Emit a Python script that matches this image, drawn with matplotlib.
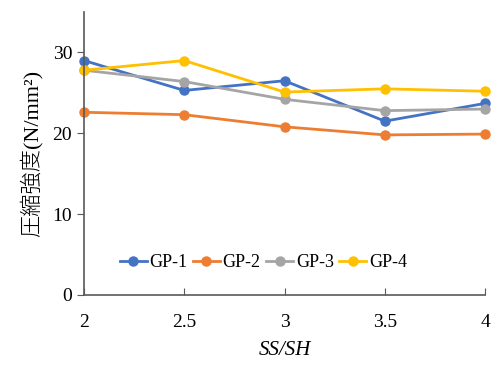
import matplotlib
matplotlib.use("Agg")
import matplotlib.pyplot as plt

# data
ratio = [2, 2.5, 3, 3.5, 4]
gp1 = [29.0, 25.3, 26.5, 21.5, 23.7]
gp2 = [22.6, 22.3, 20.8, 19.8, 19.9]
gp3 = [27.8, 26.4, 24.2, 22.8, 23.0]
gp4 = [27.8, 29.0, 25.1, 25.5, 25.2]
labels = ["GP-1", "GP-2", "GP-3", "GP-4"]
colors = ["#4472C4", "#ED7D31", "#A5A5A5", "#FFC000"]

plt.rcParams['font.family'] = ['Liberation Serif', 'Noto Sans CJK JP']

fig = plt.figure(figsize=(4.91, 3.65), dpi=100)
ax = fig.add_axes([0.171, 0.192, 0.817, 0.775])

for ys, lab, c in zip([gp1, gp2, gp3, gp4], labels, colors):
    ax.plot(ratio, ys, color=c, lw=2, marker='o', markersize=6.5, label=lab, clip_on=False)

ax.set_xlim(2, 4)
ax.set_ylim(0, 35)
ax.set_xticks(ratio)
ax.set_xticklabels(["2", "2.5", "3", "3.5", "4"])
ax.set_yticks([0, 10, 20, 30])

for s in ['top', 'right']:
    ax.spines[s].set_visible(False)
for s in ['left', 'bottom']:
    ax.spines[s].set_color('#595959')
    ax.spines[s].set_linewidth(1.2)

ax.tick_params(axis='x', direction='in', length=5, color='#595959', pad=14, labelsize=14)
ax.tick_params(axis='y', direction='out', length=5, color='#595959', labelsize=14)

ax.set_ylabel("圧縮強度(N/mm²)", fontsize=16, fontweight='light', labelpad=7)
ax.set_xlabel("SS/SH", fontsize=15, style='italic', labelpad=7)

ax.legend(loc='center', bbox_to_anchor=(0.447, 0.113), ncol=4, frameon=False,
          fontsize=13, handlelength=1.5, handletextpad=0.15, columnspacing=0.3)

fig.savefig("out.png", dpi=100)
